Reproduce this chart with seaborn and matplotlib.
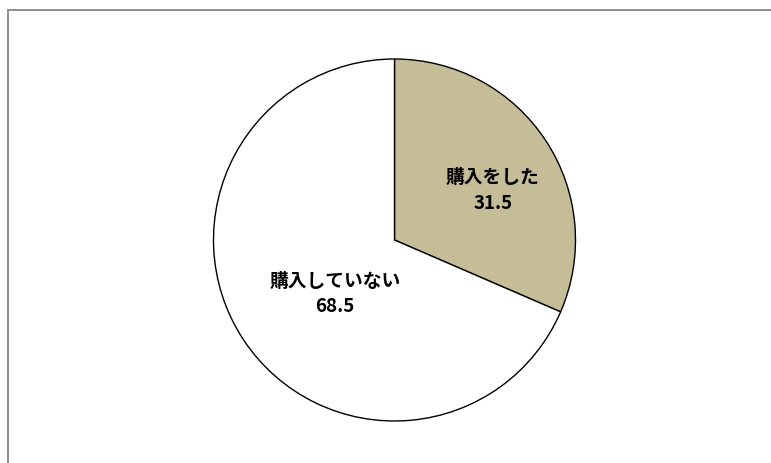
import matplotlib
matplotlib.use("Agg")
import matplotlib.pyplot as plt
import matplotlib.patches as mpatches
import seaborn as sns

# Purchase survey result (percent)
categories = ["購入をした", "購入していない"]
values = [31.5, 68.5]
colors = ["#c4bd97", "#ffffff"]

sns.set_theme(style="white")
plt.rcParams["font.family"] = ["Noto Sans CJK JP", "DejaVu Sans"]

W, H = 771, 463
fig = plt.figure(figsize=(W / 100, H / 100), dpi=100)

# Outer chart-area frame (runs past the right and bottom edges)
frame = mpatches.Rectangle((7.5 / W, -0.1), 1.2, (H - 9.5) / H + 0.1,
                           transform=fig.transFigure, fill=False,
                           edgecolor="#8e8e8e", linewidth=1.4)
fig.patches.append(frame)

cx, cy, r = 394.5, 240.0, 181.0
ax = fig.add_axes([(cx - r) / W, (H - cy - r) / H, 2 * r / W, 2 * r / H])
wedges, _ = ax.pie(values, colors=colors, startangle=90, counterclock=False,
                   radius=1.0,
                   wedgeprops=dict(edgecolor="black", linewidth=1.0))
ax.set_xlim(-1, 1)
ax.set_ylim(-1, 1)
ax.set_aspect("equal")
ax.axis("off")

label_pos = [(0.544, 0.273), (-0.329, -0.298)]
for cat, val, (x, y) in zip(categories, values, label_pos):
    ax.text(x, y, f"{cat}\n{val:.1f}", ha="center", va="center",
            fontsize=13.5, fontweight="bold", color="black", linespacing=1.45)

fig.savefig("out.png", dpi=100)
